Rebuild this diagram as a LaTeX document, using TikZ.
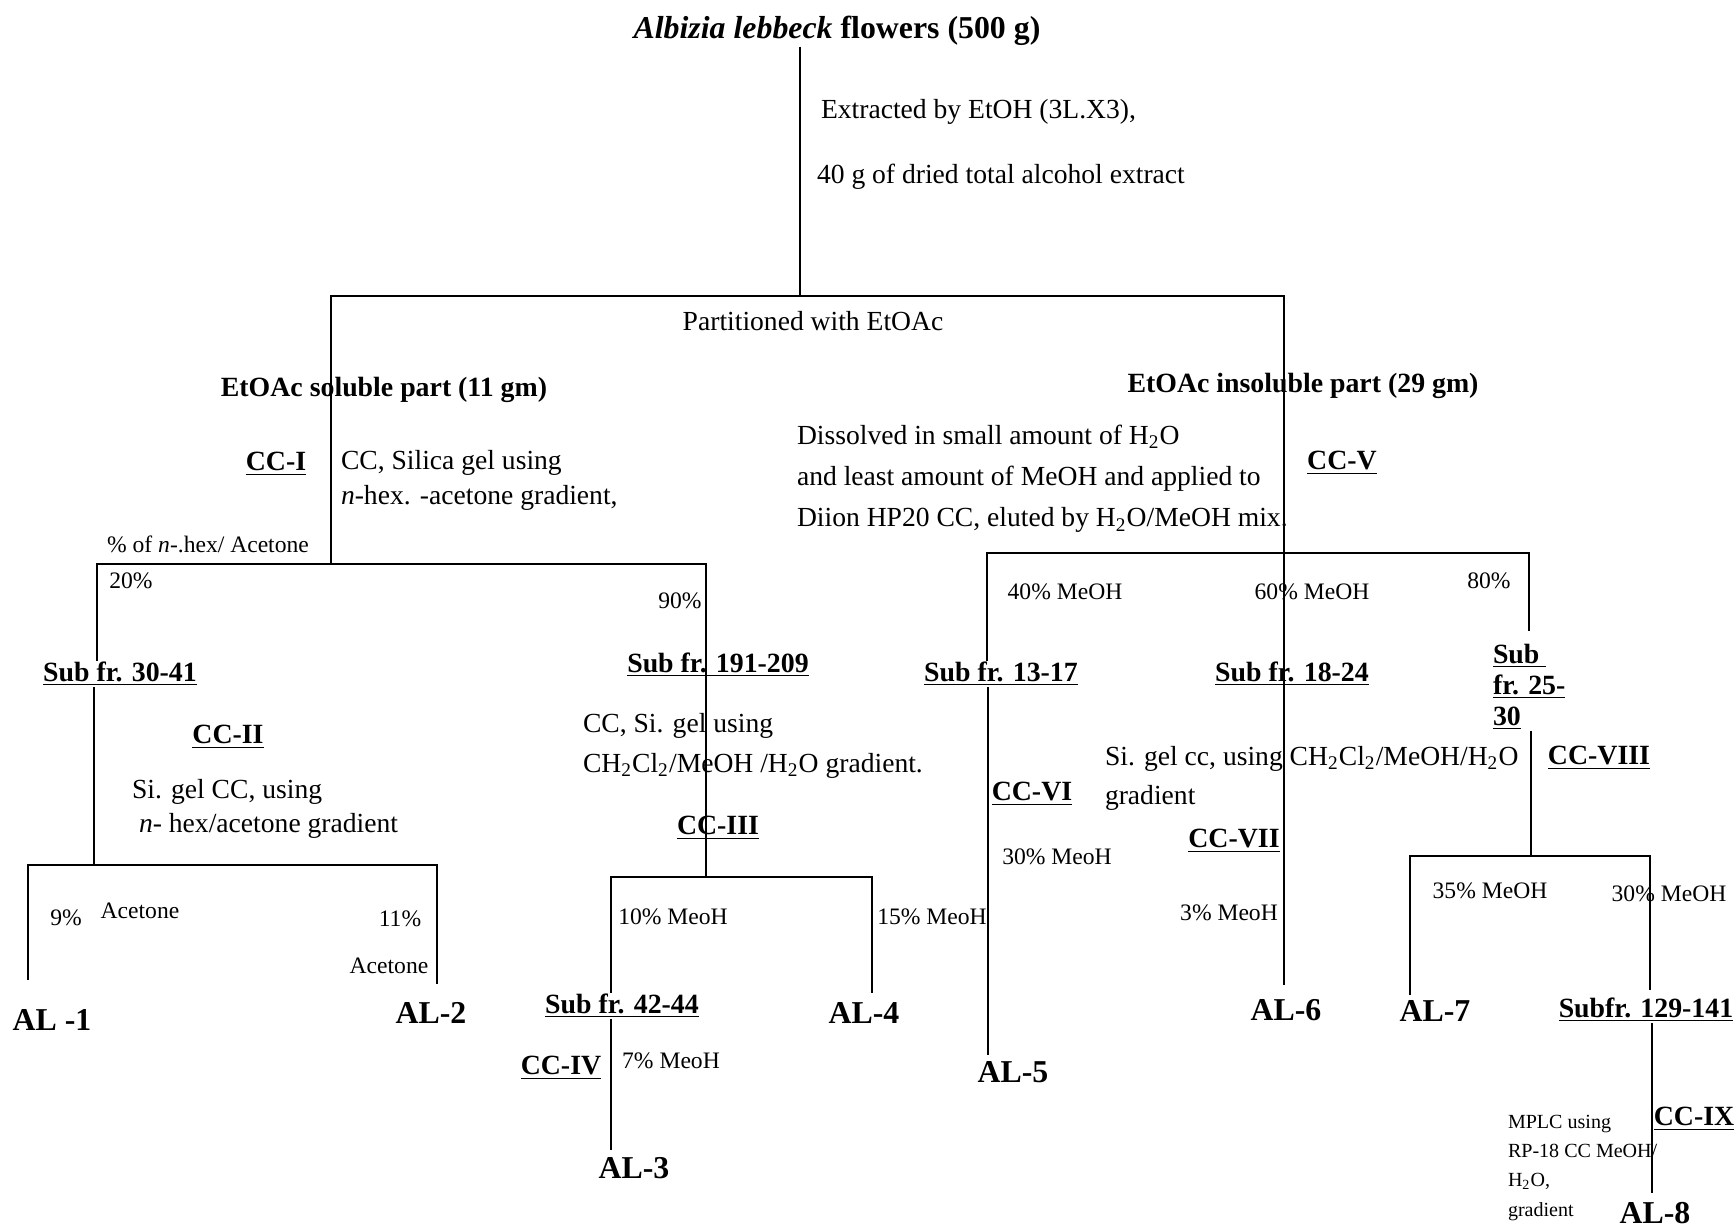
\documentclass[tikz,border=0pt]{standalone}
\usepackage{fontspec}
\setmainfont{Liberation Serif}
\usepackage{tikz}
\usetikzlibrary{calc}
\usetikzlibrary{positioning}

\begin{document}
\begin{tikzpicture}[x=0.424pt, y=-0.424pt, line width=0.85pt,             % 1 unit = 1 px of the scheme
	every node/.style={inner sep=0pt},
	title/.style={font=\fontsize{13.5}{16}\selectfont\bfseries},
	body/.style={font=\fontsize{11.7}{15}\selectfont},
	part/.style={font=\fontsize{11.8}{15}\selectfont\bfseries},            % fractions and columns
	pct/.style={font=\fontsize{10}{12}\selectfont},                        % eluent labels
	cmpd/.style={font=\fontsize{13.5}{16}\selectfont\bfseries},            % isolated compounds
	note/.style={body, align=left, anchor=west}]
	\useasboundingbox (0,0) rectangle (1736,1230);

	% starting material and partition
	\node[title] (src) at (837,31) {\textit{Albizia lebbeck} flowers (500 g)};
	\node[body, anchor=west] (ext1) at (820,112) {Extracted by EtOH (3L.X3),};
	\node[body, anchor=west] (ext2) at (816,177) {40 g of dried total alcohol extract};
	\node[body] (parti) at (813,321) {Partitioned with EtOAc};
	\node[part] (sol) at (384,390) {EtOAc soluble part (11 gm)};
	\node[part] (insol) at (1303,386) {EtOAc insoluble part (29 gm)};

	% soluble part
	\node[part] (cc1) at (276,464) {\underline{CC-I}};
	\node[note, font=\fontsize{11.7}{14.8}\selectfont] (cc1txt) at (340,480)
		{CC, Silica gel using\\\textit{n}-hex. -acetone gradient,};
	\node[pct] (hex) at (208,544) {\% of \textit{n}-.hex/ Acetone};
	\node[pct] (p20) at (131,581) {20\%};
	\node[pct] (p90) at (680,601) {90\%};
	\node[part] (sf1) at (120,674) {\underline{Sub fr. 30-41}};
	\node[part] (sf2) at (718,665) {\underline{Sub fr. 191-209}};
	\node[part] (cc2) at (228,737) {\underline{CC-II}};
	\node[note, font=\fontsize{11.7}{14.4}\selectfont] (cc2txt) at (131,809)
		{Si. gel CC, using\\\hspace*{3pt}\textit{n}- hex/acetone gradient};
	\node[pct] (p9) at (66,918) {9\%};
	\node[pct] (ace1) at (140,911) {Acetone};
	\node[pct] (p11) at (400,919) {11\%};
	\node[pct] (ace2) at (389,966) {Acetone};
	\node[cmpd] (al1) at (52,1020) {AL -1};
	\node[cmpd] (al2) at (431,1013) {AL-2};
	\node[note, font=\fontsize{11.7}{17}\selectfont] (cc3txt) at (582,746)
		{CC, Si. gel using\\CH\textsubscript{2}Cl\textsubscript{2}/MeOH /H\textsubscript{2}O gradient.};
	\node[part] (cc3) at (718,828) {\underline{CC-III}};
	\node[pct] (p10) at (673,917) {10\% MeoH};
	\node[pct] (p15) at (932,917) {15\% MeoH};
	\node[part] (sf4) at (622,1006) {\underline{Sub fr. 42-44}};
	\node[cmpd] (al4) at (864,1013) {AL-4};
	\node[part] (cc4) at (561,1068) {\underline{CC-IV}};
	\node[pct] (p7) at (671,1061) {7\% MeoH};
	\node[cmpd] (al3) at (634,1168) {AL-3};

	% insoluble part
	\node[note, font=\fontsize{11.7}{17.4}\selectfont] (diss) at (796,479)
		{Dissolved in small amount of H\textsubscript{2}O\\
		 and least amount of MeOH and applied to\\
		 Diion HP20 CC, eluted by H\textsubscript{2}O/MeOH mix.};
	\node[part] (cc5) at (1342,463) {\underline{CC-V}};
	\node[pct] (p40) at (1065,592) {40\% MeOH};
	\node[pct] (p60) at (1312,592) {60\% MeOH};
	\node[pct] (p80) at (1489,581) {80\%};
	\node[part] (sf5) at (1001,674) {\underline{Sub fr. 13-17}};
	\node[part] (sf6) at (1292,674) {\underline{Sub fr. 18-24}};
	\node[part, align=left, anchor=west, font=\fontsize{11.8}{13.2}\selectfont\bfseries] (sf7) at (1492,687)
		{\underline{Sub\ }\\\underline{fr. 25-}\\\underline{30}};
	\node[note, font=\fontsize{11.7}{16.5}\selectfont] (cc7txt) at (1104,778)
		{Si. gel cc, using CH\textsubscript{2}Cl\textsubscript{2}/MeOH/H\textsubscript{2}O\\gradient};
	\node[part] (cc8) at (1599,758) {\underline{CC-VIII}};
	\node[part] (cc6) at (1032,794) {\underline{CC-VI}};
	\node[pct] (p30a) at (1057,857) {30\% MeoH};
	\node[part] (cc7) at (1234,841) {\underline{CC-VII}};
	\node[pct] (p3) at (1229,913) {3\% MeoH};
	\node[cmpd] (al5) at (1013,1072) {AL-5};
	\node[cmpd] (al6) at (1286,1010) {AL-6};
	\node[cmpd] (al7) at (1435,1011) {AL-7};
	\node[pct] (p35) at (1490,891) {35\% MeOH};
	\node[pct] (p30b) at (1669,894) {30\% MeOH};
	\node[part] (sf8) at (1646,1010) {\underline{Subfr. 129-141}};
	\node[part] (cc9) at (1694,1119) {\underline{CC-IX}};
	\node[note, font=\fontsize{8.5}{12.3}\selectfont] (mplc) at (1507,1168)
		{MPLC using\\RP-18 CC MeOH/\\H\textsubscript{2}O,\\gradient};
	\node[cmpd] (al8) at (1655,1213) {AL-8};

	% branch points
	\coordinate (j0) at (800,296);
	\coordinate (b1l) at (331,296);  \coordinate (b1r) at (1284,296);
	\coordinate (b2) at (331,564);   \coordinate (b2l) at (97,564);   \coordinate (b2r) at (706,564);
	\coordinate (b3) at (706,877);   \coordinate (b3l) at (611,877);  \coordinate (b3r) at (872,877);
	\coordinate (b4) at (94,865);    \coordinate (b4l) at (28,865);   \coordinate (b4r) at (437,865);
	\coordinate (b5l) at (987,553);  \coordinate (b5r) at (1529,553);
	\coordinate (b6) at (1531,856);  \coordinate (b6l) at (1410,856); \coordinate (b6r) at (1650,856);
	% free ends
	\coordinate (e1) at (28,980);    \coordinate (e2) at (437,984);
	\coordinate (e3) at (611,1150);  \coordinate (e4) at (872,993);
	\coordinate (e5) at (988,1055);  \coordinate (e6) at (1284,985);
	\coordinate (e7) at (1410,995);  \coordinate (e7a) at (1529,631);
	\coordinate (e8) at (1652,1193); \coordinate (e8a) at (1650,990);

	\draw (src.south -| j0) -- (j0);
	\draw (b2) -- (b1l) -- (b1r) -- (e6);
	\draw (sf1.north -| b2l) -- (b2l) -- (b2r) -- (b3);
	\draw (sf1.south -| b4) -- (b4);
	\draw (e1) -- (b4l) -- (b4r) -- (e2);
	\draw (sf4.north -| b3l) -- (b3l) -- (b3r) -- (e4);
	\draw (sf4.south -| e3) -- (e3);
	\draw (sf5.north -| b5l) -- (b5l) -- (b5r) -- (e7a);
	\draw (sf5.south -| e5) -- (e5);
	\draw (sf7.south -| b6) -- (b6);
	\draw (e7) -- (b6l) -- (b6r) -- (e8a);
	\draw (sf8.south -| e8) -- (e8);
	%\draw (sf8.south -| e8) -- ++(0,40) -- (e8);      % kinked version
\end{tikzpicture}
\end{document}
